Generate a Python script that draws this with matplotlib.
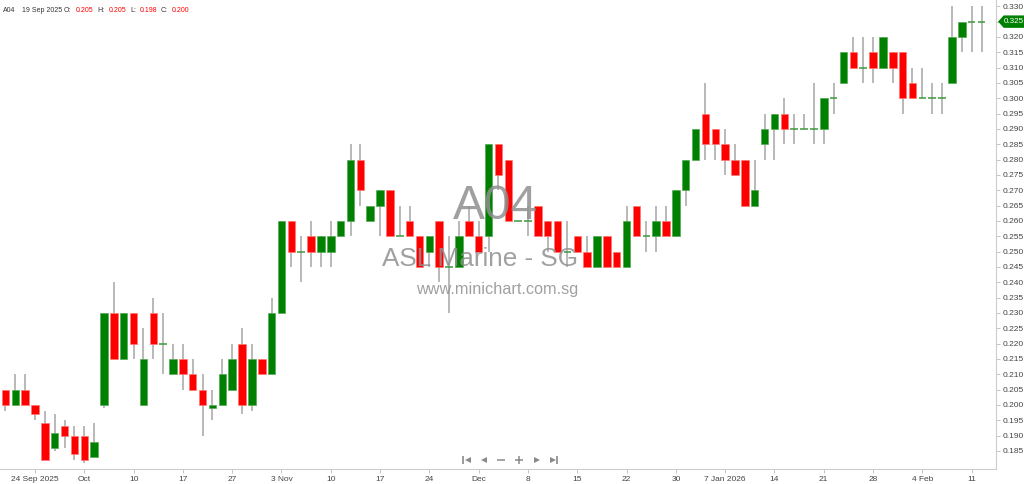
import matplotlib
matplotlib.use("Agg")
import matplotlib.pyplot as plt
import numpy as np
from matplotlib.patches import Polygon

plt.rcParams['font.family'] = ['Liberation Sans', 'DejaVu Sans']

# daily candles, 19 Sep 2025 .. 12 Feb 2026
opens = [0.205, 0.200, 0.205, 0.200, 0.194, 0.186, 0.193, 0.190, 0.190, 0.183,
         0.200, 0.230, 0.215, 0.230, 0.200, 0.230, 0.220, 0.210, 0.215, 0.210,
         0.205, 0.199, 0.200, 0.205, 0.220, 0.200, 0.215, 0.210, 0.230, 0.260,
         0.250, 0.255, 0.250, 0.250, 0.255, 0.260, 0.280, 0.260, 0.265, 0.270,
         0.255, 0.260, 0.255, 0.250, 0.260, 0.245, 0.245, 0.260, 0.255, 0.255,
         0.285, 0.280, 0.260, 0.260, 0.265, 0.260, 0.260, 0.250, 0.255, 0.250,
         0.245, 0.255, 0.250, 0.245, 0.265, 0.255, 0.255, 0.260, 0.255, 0.270,
         0.280, 0.295, 0.290, 0.285, 0.280, 0.280, 0.265, 0.285, 0.290, 0.295,
         0.290, 0.290, 0.290, 0.290, 0.300, 0.305, 0.315, 0.310, 0.315, 0.310,
         0.315, 0.315, 0.305, 0.300, 0.300, 0.300, 0.305, 0.320, 0.325, 0.325]
highs = [0.205, 0.210, 0.210, 0.200, 0.198, 0.197, 0.195, 0.193, 0.193, 0.194,
         0.230, 0.240, 0.230, 0.230, 0.225, 0.235, 0.230, 0.220, 0.220, 0.215,
         0.210, 0.205, 0.215, 0.220, 0.225, 0.220, 0.215, 0.235, 0.260, 0.260,
         0.255, 0.260, 0.255, 0.260, 0.260, 0.285, 0.285, 0.265, 0.270, 0.270,
         0.265, 0.265, 0.255, 0.255, 0.260, 0.255, 0.260, 0.265, 0.260, 0.285,
         0.285, 0.280, 0.260, 0.265, 0.265, 0.260, 0.260, 0.260, 0.255, 0.255,
         0.255, 0.255, 0.250, 0.265, 0.265, 0.260, 0.265, 0.265, 0.270, 0.280,
         0.290, 0.305, 0.290, 0.290, 0.285, 0.280, 0.280, 0.295, 0.295, 0.300,
         0.295, 0.295, 0.305, 0.300, 0.305, 0.315, 0.320, 0.320, 0.320, 0.320,
         0.315, 0.315, 0.310, 0.310, 0.305, 0.305, 0.330, 0.325, 0.330, 0.330]
lows = [0.198, 0.200, 0.200, 0.195, 0.182, 0.185, 0.186, 0.182, 0.181, 0.183,
        0.199, 0.215, 0.215, 0.215, 0.200, 0.215, 0.210, 0.210, 0.205, 0.205,
        0.190, 0.195, 0.200, 0.205, 0.197, 0.198, 0.210, 0.210, 0.230, 0.245,
        0.240, 0.245, 0.245, 0.245, 0.255, 0.255, 0.265, 0.260, 0.255, 0.255,
        0.255, 0.255, 0.245, 0.245, 0.240, 0.230, 0.245, 0.255, 0.250, 0.250,
        0.270, 0.260, 0.260, 0.255, 0.255, 0.250, 0.250, 0.245, 0.250, 0.245,
        0.245, 0.245, 0.245, 0.245, 0.255, 0.250, 0.250, 0.255, 0.255, 0.265,
        0.280, 0.280, 0.280, 0.275, 0.275, 0.265, 0.265, 0.280, 0.280, 0.285,
        0.285, 0.290, 0.285, 0.285, 0.295, 0.305, 0.310, 0.305, 0.305, 0.310,
        0.305, 0.295, 0.300, 0.300, 0.295, 0.295, 0.305, 0.315, 0.315, 0.315]
closes = [0.200, 0.205, 0.200, 0.197, 0.182, 0.191, 0.190, 0.184, 0.182, 0.188,
          0.230, 0.215, 0.230, 0.220, 0.215, 0.220, 0.220, 0.215, 0.210, 0.205,
          0.200, 0.200, 0.210, 0.215, 0.200, 0.215, 0.210, 0.230, 0.260, 0.250,
          0.250, 0.250, 0.255, 0.255, 0.260, 0.280, 0.270, 0.265, 0.270, 0.255,
          0.255, 0.255, 0.245, 0.255, 0.245, 0.245, 0.255, 0.255, 0.250, 0.285,
          0.275, 0.260, 0.260, 0.260, 0.255, 0.255, 0.250, 0.250, 0.250, 0.245,
          0.255, 0.245, 0.245, 0.260, 0.255, 0.255, 0.260, 0.255, 0.270, 0.280,
          0.290, 0.285, 0.285, 0.280, 0.275, 0.265, 0.270, 0.290, 0.295, 0.290,
          0.290, 0.290, 0.290, 0.300, 0.300, 0.315, 0.310, 0.310, 0.310, 0.320,
          0.310, 0.300, 0.300, 0.300, 0.300, 0.300, 0.320, 0.325, 0.325, 0.325]

tick_pos = [3, 8, 13, 18, 23, 28, 33, 38, 43, 48, 53, 58, 63, 68, 73, 78, 83, 88, 93, 98]
tick_labels = ['24 Sep 2025', 'Oct', '10', '17', '27', '3 Nov', '10', '17', '24', 'Dec',
               '8', '15', '22', '30', '7 Jan 2026', '14', '21', '28', '4 Feb', '11']
price_ticks = np.round(np.arange(0.185, 0.3301, 0.005), 3)

symbol = 'A04'
name = 'ASL Marine - SG'
site = 'www.minichart.com.sg'
first_date = '19 Sep 2025'

green = '#008000'
red = '#ff0000'
wick = '#a6a6a6'

o = np.array(opens)
h = np.array(highs)
l = np.array(lows)
c = np.array(closes)
x = np.arange(len(o))

fig = plt.figure(figsize=(10.24, 4.84), dpi=100)
ax = fig.add_axes([0, 15 / 484, 996 / 1024, 469 / 484])

ax.vlines(x, l, h, color=wick, linewidth=1.1, zorder=1)

up = c > o
down = c < o
flat = c == o
ax.bar(x[up], (c - o)[up], bottom=o[up], width=0.76, color=green,
       edgecolor='#55aa55', linewidth=0.5, zorder=2)
ax.bar(x[down], (o - c)[down], bottom=c[down], width=0.76, color=red,
       edgecolor='#ff7777', linewidth=0.5, zorder=2)
ax.hlines(c[flat], x[flat] - 0.38, x[flat] + 0.38, color='#3c9a3c', linewidth=1.1, zorder=2)

ax.set_xlim(-0.55, 100.47)
ax.set_ylim(0.17913, 0.33205)

ax.yaxis.tick_right()
ax.set_yticks(price_ticks)
ax.set_yticklabels([f'{v:.3f}' for v in price_ticks])
ax.set_xticks(tick_pos)
ax.set_xticklabels(tick_labels)
ax.tick_params(axis='y', length=3, width=0.6, color='#bbbbbb', labelsize=6,
               labelcolor='#444444', pad=2)
ax.tick_params(axis='x', length=3, width=0.6, color='#bbbbbb', labelsize=6,
               labelcolor='#444444', pad=2)
for s in ['top', 'left']:
    ax.spines[s].set_visible(False)
for s in ['right', 'bottom']:
    ax.spines[s].set_color('#cccccc')
    ax.spines[s].set_linewidth(0.8)

# watermark
ax.text(0.497, 0.560, symbol, transform=ax.transAxes, fontsize=34.5, color='#909090',
        alpha=0.85, ha='center', va='center', zorder=3)
ax.text(0.482, 0.447, name, transform=ax.transAxes, fontsize=18.8, color='#909090',
        alpha=0.85, ha='center', va='center', zorder=3)
ax.text(0.499, 0.382, site, transform=ax.transAxes, fontsize=11.7, color='#909090',
        alpha=0.85, ha='center', va='center', zorder=3)

# overlay in pixel coordinates for header, tag and nav buttons
ov = fig.add_axes([0, 0, 1, 1], facecolor='none')
ov.set_xlim(0, 1024)
ov.set_ylim(484, 0)
ov.axis('off')

hdr = [(3, symbol, '#333333'), (22, first_date, '#333333'), (64, 'O:', '#333333'),
       (76, f'{opens[0]:.3f}', red), (97, 'H:', '#333333'), (109, f'{highs[0]:.3f}', red),
       (130, 'L:', '#333333'), (140, f'{lows[0]:.3f}', red), (161, 'C:', '#333333'),
       (172, f'{closes[0]:.3f}', red)]
for hx, t, col in hdr:
    ov.text(hx, 10.5, t, fontsize=5.0, color=col, ha='left', va='center')

# last price tag
fig.canvas.draw()
ty = 484 - ax.transData.transform((0, closes[-1]))[1]
tag = Polygon([[999, ty], [1004, ty - 5.5], [1024, ty - 5.5], [1024, ty + 5.5], [1004, ty + 5.5]],
              closed=True, color=green)
ov.add_patch(tag)
ov.text(1014, ty, f'{closes[-1]:.3f}', fontsize=5.8, color='white', ha='center', va='center')

# navigation buttons
nav = '#8a8a8a'
ov.plot([463], [459.5], marker='|', markersize=5.5, color=nav, mew=1.2)
ov.plot([467.5], [459.5], marker='<', markersize=4.2, color=nav, mew=0)
ov.plot([484], [459.5], marker='<', markersize=4.2, color=nav, mew=0)
ov.plot([501], [459.5], marker='_', markersize=5.5, color=nav, mew=1.1)
ov.plot([519], [459.5], marker='+', markersize=5.5, color=nav, mew=1.1)
ov.plot([537], [459.5], marker='>', markersize=4.2, color=nav, mew=0)
ov.plot([552.5], [459.5], marker='>', markersize=4.2, color=nav, mew=0)
ov.plot([557], [459.5], marker='|', markersize=5.5, color=nav, mew=1.2)

fig.savefig('out.png', dpi=100)
